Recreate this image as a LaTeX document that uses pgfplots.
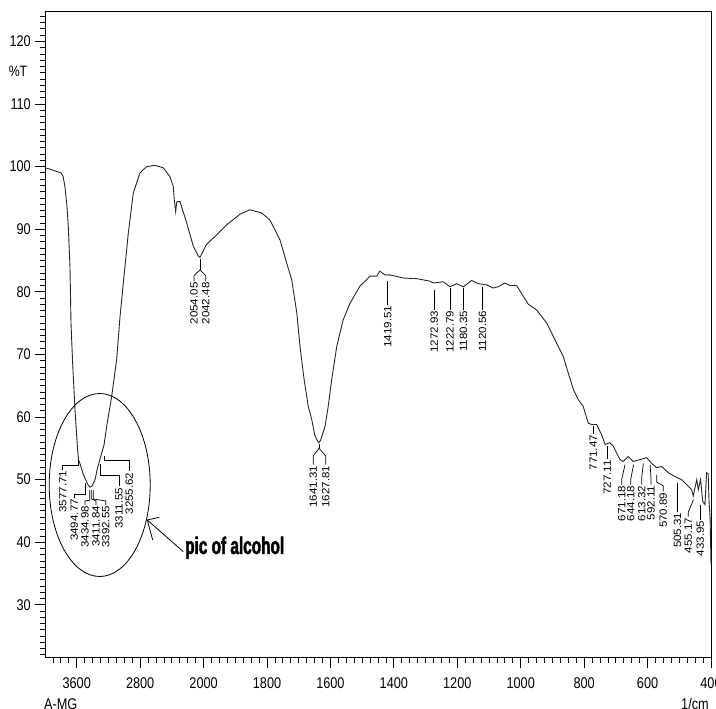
\documentclass[border=0pt]{standalone}
\usepackage{fontspec}
\setmainfont{Liberation Sans}
\newfontfamily\tickfont[FakeStretch=0.82]{Liberation Sans}
\newfontfamily\peakfont[FakeStretch=1.1]{Liberation Sans}
\newfontfamily\impfont[FakeStretch=0.64,FakeBold=1.8]{Liberation Sans}
\usepackage{pgfplots}
\pgfplotsset{compat=1.18}
\pgfplotstableread{
wn T
4000 99.8
3937 99.6
3849 99.2
3798 99.0
3773 98.5
3748 96.8
3722 93.5
3706 90.4
3685 84.0
3672 75.0
3651 68.5
3622 61.2
3590 55.0
3578 53.2
3560 52.6
3521 51.0
3495 50.2
3458 49.2
3435 48.8
3412 48.9
3393 49.3
3369 50.0
3344 51.5
3312 53.0
3306 53.3
3256 55.5
3222 58.5
3159 63.3
3096 69.2
3054 76.0
3012 81.4
2949 89.4
2886 95.8
2802 99.0
2717 100.0
2613 100.2
2508 99.8
2424 98.4
2382 96.8
2369 94.6
2352 92.8
2340 94.2
2332 94.4
2297 94.4
2213 91.0
2130 87.3
2066 85.7
2045 85.5
2004 86.5
1992 87.5
1969 88.6
1927 90.7
1885 92.4
1854 93.1
1817 92.6
1791 91.5
1759 88.3
1738 84.6
1722 81.9
1706 76.6
1696 71.3
1683 66.0
1670 61.7
1659 59.6
1649 57.0
1640 56.1
1636 55.9
1631 56.3
1617 58.5
1607 61.7
1596 66.0
1580 71.3
1560 75.5
1538 78.2
1507 80.9
1475 82.5
1454 82.5
1444 83.3
1428 82.7
1412 82.7
1370 82.2
1328 82.1
1286 81.7
1276 81.4
1244 81.6
1223 80.8
1202 81.3
1181 80.8
1155 81.8
1134 81.3
1107 81.1
1087 80.6
1071 80.8
1050 81.4
1034 81.0
1013 81.0
992 79.3
976 78.0
950 77.1
918 75.0
908 74.0
887 71.8
866 69.7
850 67.0
834 64.4
819 62.8
803 61.7
787 59.0
776 58.8
761 58.8
745 57.2
734 55.6
719 55.9
708 55.3
687 53.2
677 52.9
661 53.7
645 52.9
624 53.2
603 53.5
587 52.6
571 51.9
556 52.1
535 51.1
514 50.5
493 50.0
477 49.2
461 48.4
456 47.4
445 50.0
440 48.4
433 50.0
426 46.5
419 46.0
414 51.1
409 50.9
406 46.3
403 44.0
401 39.0
400 36.5
}\spectrum
\begin{document}
\begin{tikzpicture}[x=1bp,y=1bp,
  plabel/.style={rotate=90, anchor=east, inner sep=0.8bp, font=\peakfont\fontsize{10.5bp}{12bp}\selectfont},
  ldr/.style={line width=0.7bp, black}]
\useasboundingbox (0,0) rectangle (716,709);
\begin{axis}[
  at={(45bp,51bp)}, anchor=south west, scale only axis,
  width=666bp, height=646bp,
  x coord trafo/.code={\pgfmathparse{(#1>=2000)*(4000-#1)/4+(#1<2000)*(2500-#1)}},
  xmin=4000, xmax=400, ymin=21.5, ymax=124.7,
  xtick={3600,2800,2000,1800,1600,1400,1200,1000,800,600,400},
  xticklabels={3600,2800,2000,1800,1600,1400,1200,1000,800,600,400},
  minor xtick={3900,3800,3700,3500,3400,3300,3200,3100,3000,2900,2700,2600,2500,2400,2300,2200,2100,
    1975,1950,1925,1900,1875,1850,1825,1775,1750,1725,1700,1675,1650,1625,1575,1550,1525,1500,1475,1450,1425,
    1375,1350,1325,1300,1275,1250,1225,1175,1150,1125,1100,1075,1050,1025,975,950,925,900,875,850,825,
    775,750,725,700,675,650,625,575,550,525,500,475,450,425},
  ytick={30,40,50,60,70,80,90,100,110,120},
  yticklabels={30,40,50,60,70,80,90,100,110,120},
  minor ytick={22,23,...,124},
  tick align=outside, xtick pos=bottom, ytick pos=left,
  major tick length=10bp, minor tick length=5bp,
  every tick/.style={black, line width=0.8bp},
  axis line style={black, line width=1bp},
  tick label style={font=\tickfont\fontsize{15.5bp}{18bp}\selectfont, inner sep=0pt},
  xticklabel style={anchor=base, yshift=-21bp},
  yticklabel style={anchor=east, xshift=-4bp},
  clip=false,
]
\addplot[line width=0.9bp, black!85, mark=none] table[x=wn, y=T] {\spectrum};

% peak labels
\draw[ldr] (axis cs:1419.51,81.66) -- (axis cs:1419.51,77.94) node[plabel]{1419.51};
\draw[ldr] (axis cs:1272.93,80.34) -- (axis cs:1272.93,77.15) node[plabel]{1272.93};
\draw[ldr] (axis cs:1222.79,80.6) -- (axis cs:1222.79,77.15) node[plabel]{1222.79};
\draw[ldr] (axis cs:1180.35,80.6) -- (axis cs:1180.35,77.15) node[plabel]{1180.35};
\draw[ldr] (axis cs:1120.56,80.8) -- (axis cs:1120.56,77.15) node[plabel]{1120.56};
\draw[ldr] (axis cs:771.47,58.6) -- (axis cs:771.47,57.3) node[plabel]{771.47};
\draw[ldr] (axis cs:727.11,55.3) -- (axis cs:727.11,53.3) node[plabel]{727.11};
\draw[ldr] (axis cs:671.18,52.4) -- (axis cs:681.6,50.0) -- (axis cs:681.6,49.2) node[plabel]{671.18};
\draw[ldr] (axis cs:644.18,52.4) -- (axis cs:653.3,50.0) -- (axis cs:653.3,49.2) node[plabel]{644.18};
\draw[ldr] (axis cs:613.32,52.6) -- (axis cs:618.6,50.3) -- (axis cs:618.6,49.2) node[plabel]{613.32};
\draw[ldr] (axis cs:592.11,52.4) -- (axis cs:589.3,50.3) -- (axis cs:589.3,49.2) node[plabel]{592.11};
\draw[ldr] (axis cs:570.89,50.8) -- (axis cs:570.89,49.6) -- (axis cs:550.5,49.0) -- (axis cs:550.5,48.1) node[plabel]{570.89};
\draw[ldr] (axis cs:505.31,49.5) -- (axis cs:505.31,44.9) node[plabel]{505.31};
\draw[ldr] (axis cs:455.17,46.8) -- (axis cs:471.7,44.8) -- (axis cs:471.7,44.1) node[plabel]{455.17};
\draw[ldr] (axis cs:433.95,46.0) -- (axis cs:433.95,43.6) node[plabel]{433.95};

\draw[ldr] (axis cs:2045,85.2) -- (axis cs:2045,83.5);
\draw[ldr] (axis cs:2045,83.5) -- (axis cs:2120,82.6) -- (axis cs:2120,81.66) node[plabel]{2054.05};
\draw[ldr] (axis cs:2045,83.5) -- (axis cs:1993,82.6) -- (axis cs:1993,81.66) node[plabel]{2042.48};

\draw[ldr] (axis cs:1636,55.7) -- (axis cs:1636,55.0);
\draw[ldr] (axis cs:1636,55.0) -- (axis cs:1654,53.8) -- (axis cs:1654,52.4) node[plabel]{1641.31};
\draw[ldr] (axis cs:1636,55.0) -- (axis cs:1615,53.8) -- (axis cs:1615,52.4) node[plabel]{1627.81};

\draw[ldr] (axis cs:3577.71,53.2) -- (axis cs:3577.71,52.24) -- (axis cs:3776.8,52.24) -- (axis cs:3776.8,51.6) node[plabel]{3577.71};
\draw[ldr] (axis cs:3494.77,49.5) -- (axis cs:3494.77,47.6) -- (axis cs:3630.4,47.6) -- (axis cs:3630.4,47.06) node[plabel]{3494.77};
\draw[ldr] (axis cs:3434.98,48.3) -- (axis cs:3434.98,46.7) -- (axis cs:3495.5,46.6) -- (axis cs:3495.5,45.97) node[plabel]{3434.98};
\draw[ldr] (axis cs:3411.84,48.3) -- (axis cs:3411.84,46.9) -- (axis cs:3356.8,46.6) -- (axis cs:3356.8,45.97) node[plabel]{3411.84};
\draw[ldr] (axis cs:3392.55,48.3) -- (axis cs:3392.55,46.9) -- (axis cs:3234.4,46.6) -- (axis cs:3234.4,45.97) node[plabel]{3392.55};
\draw[ldr] (axis cs:3300,52.5) -- (axis cs:3300,50.6) -- (axis cs:3066.8,50.6) -- (axis cs:3066.8,48.9) node[plabel]{3311.55};
\draw[ldr] (axis cs:3255.62,53.7) -- (axis cs:3255.62,53.1) -- (axis cs:2936.8,53.1) -- (axis cs:2936.8,51.3) node[plabel]{3255.62};
\end{axis}
% annotations in picture units
\draw[line width=0.8bp] (99.7,224) ellipse (50.5 and 91.5);
\draw[line width=0.8bp] (183.3,157.3) -- (147.3,189);
\draw[line width=0.8bp] (159.3,191.7) -- (147.3,189) -- (152.7,169);
\node[anchor=base west, inner sep=0pt, font=\impfont\bfseries\fontsize{24bp}{26bp}\selectfont] at (185,155) {pic of alcohol};
\node[anchor=center, inner sep=0pt, font=\tickfont\fontsize{15bp}{17bp}\selectfont] at (18,637.5) {\%T};
\node[anchor=base west, inner sep=0pt, font=\tickfont\fontsize{15.5bp}{18bp}\selectfont] at (44,-1) {A-MG};
\node[anchor=base west, inner sep=0pt, font=\tickfont\fontsize{15.5bp}{18bp}\selectfont] at (681,-1) {1/cm};
\end{tikzpicture}
\end{document}
